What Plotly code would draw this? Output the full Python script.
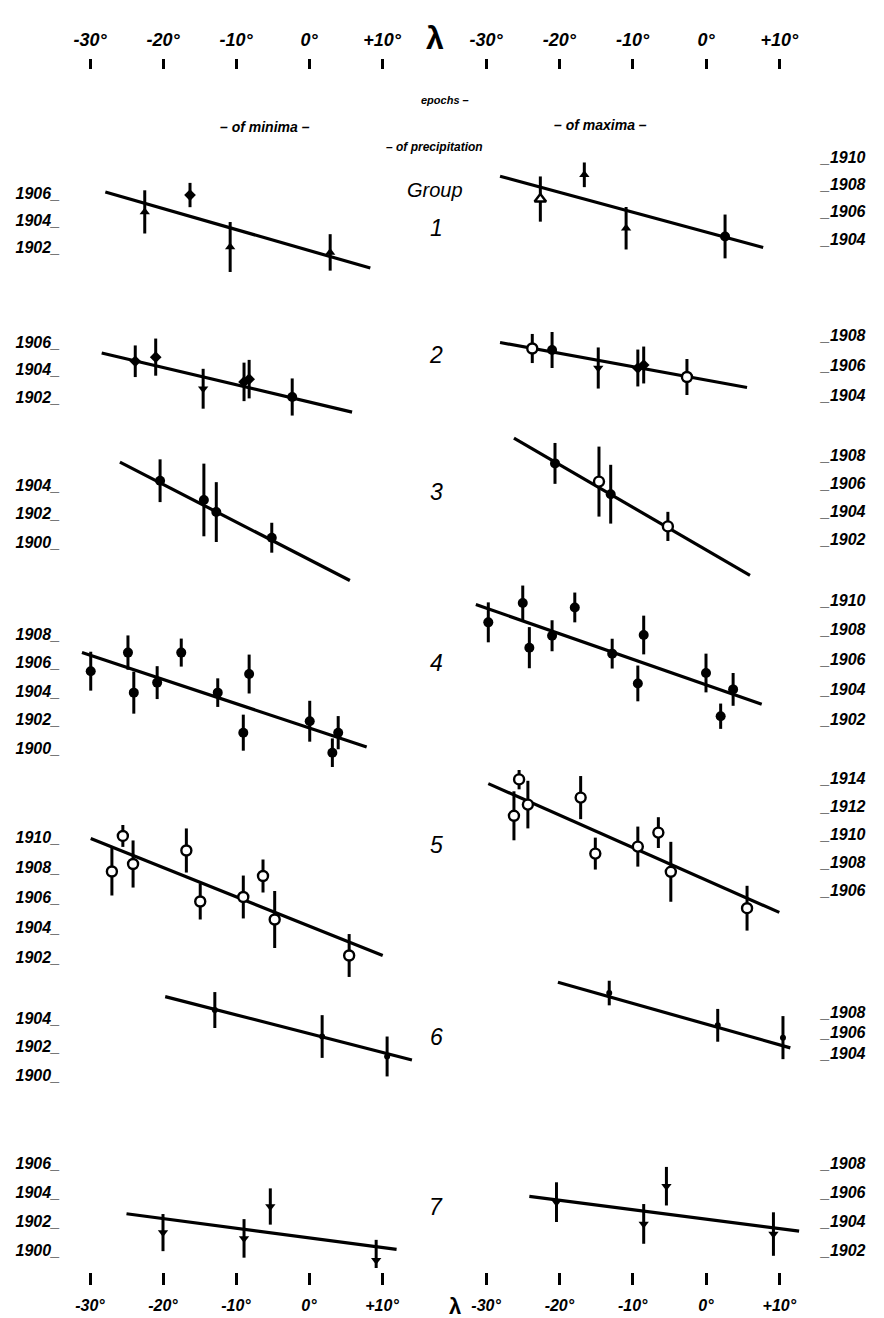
import plotly.graph_objects as go

W, H = 884, 1318

# ---------------- data ----------------
lam_ticks = [-30, -20, -10, 0, 10]
lam_ticktext = ["-30°", "-20°", "-10°", "0°", "+10°"]

# Group 1
g1_min_lam = [-22.5, -16.3, -10.8, 2.9]
g1_min_ep = [1904.6, 1905.85, 1902.0, 1901.6]
g1_min_err = [1.6, 0.9, 1.85, 1.35]
g1_min_fit_lam = [-27.9, 8.4]
g1_min_fit_ep = [1906.07, 1900.44]
g1_max_lam = [-22.6, -16.6, -10.9, 2.6]
g1_max_ep = [1906.93, 1908.7, 1904.8, 1904.2]
g1_max_err = [1.65, 0.9, 1.55, 1.6]
g1_max_fit_lam = [-28.1, 7.8]
g1_max_fit_ep = [1908.6, 1903.4]

# Group 2
g2_min_lam = [-23.8, -21.0, -14.5, -8.9, -8.2, -2.3]
g2_min_ep = [1904.6, 1904.9, 1902.6, 1903.1, 1903.3, 1902.0]
g2_min_err = [1.15, 1.35, 1.45, 1.4, 1.4, 1.35]
g2_min_fit_lam = [-28.4, 5.9]
g2_min_fit_ep = [1905.2, 1900.9]
g2_max_lam = [-23.7, -21.0, -14.7, -9.3, -8.5, -2.6]
g2_max_ep = [1907.1, 1907.0, 1905.8, 1905.8, 1906.0, 1905.2]
g2_max_err = [0.97, 1.2, 1.37, 1.23, 1.23, 1.2]
g2_max_fit_lam = [-28.1, 5.6]
g2_max_fit_ep = [1907.5, 1904.5]

# Group 3
g3_min_lam = [-20.4, -14.4, -12.7, -5.1]
g3_min_ep = [1904.3, 1902.95, 1902.1, 1900.3]
g3_min_err = [1.5, 2.55, 2.1, 1.05]
g3_min_fit_lam = [-25.9, 5.6]
g3_min_fit_ep = [1905.6, 1897.3]
g3_max_lam = [-20.6, -14.6, -13.0, -5.2]
g3_max_ep = [1907.4, 1906.1, 1905.2, 1902.9]
g3_max_err = [1.46, 2.5, 2.1, 1.04]
g3_max_fit_lam = [-26.2, 6.0]
g3_max_fit_ep = [1909.2, 1899.4]

# Group 4
g4_min_lam = [-29.9, -24.8, -24.0, -20.8, -17.5, -12.5, -8.2, -9.0, 0.1, 3.2, 4.0]
g4_min_ep = [1905.4, 1906.7, 1903.9, 1904.6, 1906.7, 1903.9, 1905.2, 1901.1, 1901.9, 1899.7, 1901.1]
g4_min_err = [1.36, 1.2, 1.47, 1.15, 0.98, 1.0, 1.36, 1.26, 1.43, 1.0, 1.16]
g4_min_fit_lam = [-31.1, 7.9]
g4_min_fit_ep = [1906.7, 1900.1]
g4_max_lam = [-29.7, -25.0, -24.1, -21.0, -17.9, -12.8, -8.5, -9.3, 0.0, 2.0, 3.7]
g4_max_ep = [1908.5, 1909.8, 1906.8, 1907.6, 1909.5, 1906.4, 1907.65, 1904.4, 1905.1, 1902.2, 1904.0]
g4_max_err = [1.34, 1.17, 1.38, 1.04, 1.0, 1.0, 1.3, 1.2, 1.3, 0.85, 1.1]
g4_max_fit_lam = [-31.4, 7.6]
g4_max_fit_ep = [1909.7, 1903.0]

# Group 5
g5_min_lam = [-27.0, -25.5, -24.1, -16.8, -14.9, -9.0, -6.3, -4.7, 5.5]
g5_min_ep = [1907.7, 1910.07, 1908.2, 1909.1, 1905.7, 1906.0, 1907.4, 1904.5, 1902.1]
g5_min_err = [1.6, 0.73, 1.57, 1.47, 1.2, 1.43, 1.1, 1.9, 1.43]
g5_min_fit_lam = [-29.9, 10.1]
g5_min_fit_ep = [1909.9, 1902.1]
g5_max_lam = [-26.2, -25.5, -24.3, -17.1, -15.1, -9.3, -6.5, -4.8, 5.6]
g5_max_ep = [1911.3, 1913.9, 1912.1, 1912.6, 1908.6, 1909.1, 1910.1, 1907.3, 1904.7]
g5_max_err = [1.75, 0.71, 1.7, 1.54, 1.14, 1.43, 1.1, 2.14, 1.6]
g5_max_fit_lam = [-29.7, 10.0]
g5_max_fit_ep = [1913.6, 1904.4]

# Group 6
g6_min_lam = [-12.9, 1.8, 10.7]
g6_min_ep = [1904.56, 1902.7, 1901.3]
g6_min_err = [1.26, 1.5, 1.4]
g6_min_fit_lam = [-19.7, 14.1]
g6_min_fit_ep = [1905.5, 1901.05]
g6_max_lam = [-13.2, 1.6, 10.5]
g6_max_ep = [1909.85, 1906.7, 1905.5]
g6_max_err = [1.2, 1.6, 2.1]
g6_max_fit_lam = [-20.2, 11.5]
g6_max_fit_ep = [1910.9, 1904.5]

# Group 7
g7_min_lam = [-20.0, -8.9, -5.3, 9.2]
g7_min_ep = [1901.2, 1900.8, 1903.0, 1899.3]
g7_min_err = [1.28, 1.33, 1.25, 1.4]
g7_min_fit_lam = [-25.0, 12.0]
g7_min_fit_ep = [1902.5, 1900.04]
g7_max_lam = [-20.4, -8.5, -5.4, 9.2]
g7_max_ep = [1905.3, 1903.8, 1906.4, 1903.1]
g7_max_err = [1.37, 1.37, 1.33, 1.5]
g7_max_fit_lam = [-24.1, 12.7]
g7_max_fit_ep = [1905.7, 1903.3]

# y tick values per panel
yt_min = [[1902, 1904, 1906], [1902, 1904, 1906], [1900, 1902, 1904],
          [1900, 1902, 1904, 1906, 1908], [1902, 1904, 1906, 1908, 1910],
          [1900, 1902, 1904], [1900, 1902, 1904, 1906]]
yt_max = [[1904, 1906, 1908, 1910], [1904, 1906, 1908], [1902, 1904, 1906, 1908],
          [1902, 1904, 1906, 1908, 1910], [1906, 1908, 1910, 1912, 1914],
          [1904, 1906, 1908], [1902, 1904, 1906, 1908]]

# ---------------- styles / layout (not data) ----------------
sym_min = [["t", "d", "t", "t"], ["d", "d", "v", "d", "d", "f"], ["f"] * 4, ["f"] * 11,
           ["o"] * 9, ["f"] * 3, ["v"] * 4]
sym_max = [["to", "t", "t", "f"], ["o", "f", "v", "d", "d", "o"], ["f", "o", "f", "o"], ["f"] * 11,
           ["o"] * 9, ["f"] * 3, ["v"] * 4]
SYM = {"f": ("circle", "black"), "o": ("circle", "white"), "t": ("triangle-up", "black"),
       "to": ("triangle-up", "white"), "v": ("triangle-down", "black"), "d": ("diamond", "black")}
SIZE = {"f": 10, "o": 10, "t": 9, "to": 10, "v": 9, "d": 9}

# pixel mapping: (reference year, pixel y of it, pixels per year)
map_min = [(1906, 193, 13.5), (1906, 342, 13.75), (1904, 485, 14.25), (1908, 634, 14.3),
           (1910, 837, 15.0), (1904, 1018, 14.25), (1906, 1163, 14.5)]
map_max = [(1910, 157, 13.7), (1908, 335, 15.0), (1908, 455, 14.0), (1910, 600, 14.9),
           (1914, 778, 14.0), (1908, 1012, 10.25), (1908, 1163, 14.5)]
bands = [(135, 295), (300, 430), (430, 600), (580, 790), (770, 1000), (975, 1100), (1130, 1268)]

# x pixel mapping: x = x0 + k*lambda
LX0, LK = 309.0, 7.3
RX0, RK = 706.0, 7.33
LDOM = (40, 430)
RDOM = (440, 815)

data_min = [(g1_min_lam, g1_min_ep, g1_min_err, g1_min_fit_lam, g1_min_fit_ep),
            (g2_min_lam, g2_min_ep, g2_min_err, g2_min_fit_lam, g2_min_fit_ep),
            (g3_min_lam, g3_min_ep, g3_min_err, g3_min_fit_lam, g3_min_fit_ep),
            (g4_min_lam, g4_min_ep, g4_min_err, g4_min_fit_lam, g4_min_fit_ep),
            (g5_min_lam, g5_min_ep, g5_min_err, g5_min_fit_lam, g5_min_fit_ep),
            (g6_min_lam, g6_min_ep, g6_min_err, g6_min_fit_lam, g6_min_fit_ep),
            (g7_min_lam, g7_min_ep, g7_min_err, g7_min_fit_lam, g7_min_fit_ep)]
data_max = [(g1_max_lam, g1_max_ep, g1_max_err, g1_max_fit_lam, g1_max_fit_ep),
            (g2_max_lam, g2_max_ep, g2_max_err, g2_max_fit_lam, g2_max_fit_ep),
            (g3_max_lam, g3_max_ep, g3_max_err, g3_max_fit_lam, g3_max_fit_ep),
            (g4_max_lam, g4_max_ep, g4_max_err, g4_max_fit_lam, g4_max_fit_ep),
            (g5_max_lam, g5_max_ep, g5_max_err, g5_max_fit_lam, g5_max_fit_ep),
            (g6_max_lam, g6_max_ep, g6_max_err, g6_max_fit_lam, g6_max_fit_ep),
            (g7_max_lam, g7_max_ep, g7_max_err, g7_max_fit_lam, g7_max_fit_ep)]

FONT = "Liberation Sans"
tickfont = dict(family=FONT, size=16, color="black", weight="bold", style="italic")

fig = go.Figure()
layout = {}


def xr(dom, x0, k):
    return [(dom[0] - x0) / k, (dom[1] - x0) / k]


def yr(band, m):
    v, y, k = m
    return [v - (band[1] - y) / k, v + (y - band[0]) / k]


idx = 0
for g in range(7):
    for col in ("min", "max"):
        idx += 1
        xa = "x" if idx == 1 else f"x{idx}"
        ya = "y" if idx == 1 else f"y{idx}"
        xkey = "xaxis" if idx == 1 else f"xaxis{idx}"
        ykey = "yaxis" if idx == 1 else f"yaxis{idx}"
        if col == "min":
            lam, ep, err, flam, fep = data_min[g]
            syms, m, yt = sym_min[g], map_min[g], yt_min[g]
            dom, x0, k = LDOM, LX0, LK
        else:
            lam, ep, err, flam, fep = data_max[g]
            syms, m, yt = sym_max[g], map_max[g], yt_max[g]
            dom, x0, k = RDOM, RX0, RK
        band = bands[g]
        small = g == 5
        fig.add_trace(go.Scatter(x=flam, y=fep, mode="lines", xaxis=xa, yaxis=ya,
                                 line=dict(color="black", width=3.2), hoverinfo="skip"))
        fig.add_trace(go.Scatter(
            x=lam, y=ep, mode="markers", xaxis=xa, yaxis=ya,
            error_y=dict(type="data", array=err, thickness=3, width=0, color="black"),
            marker=dict(symbol=[SYM[s][0] for s in syms],
                        color=[SYM[s][1] for s in syms],
                        size=[6 if small else SIZE[s] for s in syms],
                        opacity=1,
                        line=dict(color="black", width=[2.4 if s in ("o", "to") else 0 for s in syms]))))
        xaxis = dict(domain=[dom[0] / W, dom[1] / W], range=xr(dom, x0, k),
                     showgrid=False, zeroline=False, showline=False, fixedrange=True)
        if g == 0:
            xaxis.update(visible=True, side="top", anchor="free", position=1 - 69 / H,
                         ticks="outside", ticklen=10, tickwidth=3, tickcolor="black",
                         tickvals=lam_ticks, ticktext=lam_ticktext,
                         tickfont=dict(family=FONT, size=18, color="black", weight="bold", style="italic"),
                         ticklabelstandoff=6)
        elif g == 6:
            xaxis.update(visible=True, side="bottom", anchor="free", position=1 - 1272 / H,
                         ticks="outside", ticklen=12, tickwidth=3, tickcolor="black",
                         tickvals=lam_ticks, ticktext=lam_ticktext,
                         tickfont=dict(family=FONT, size=16, color="black", weight="bold", style="italic"),
                         ticklabelstandoff=7)
        else:
            xaxis.update(visible=False, anchor=ya)
        yaxis = dict(domain=[1 - band[1] / H, 1 - band[0] / H], range=yr(band, m),
                     showgrid=False, zeroline=False, showline=False, ticks="",
                     tickvals=yt, fixedrange=True, anchor="free", tickfont=tickfont)
        if col == "min":
            yaxis.update(side="left", position=60 / W, ticktext=[f"{v}_" for v in yt],
                         ticklabelstandoff=0)
        else:
            yaxis.update(side="right", position=820 / W, ticktext=[f"_{v}" for v in yt],
                         ticklabelstandoff=0)
        layout[xkey] = xaxis
        layout[ykey] = yaxis

annotations = []


def txt(x, y, s, size, bold=False, italic=True):
    annotations.append(dict(x=x / W, y=1 - y / H, xref="paper", yref="paper", text=s,
                            showarrow=False, xanchor="center", yanchor="middle",
                            font=dict(family=FONT, size=size, color="black",
                                      weight="bold" if bold else "normal",
                                      style="italic" if italic else "normal")))


txt(435, 38, "λ", 32, bold=True, italic=False)
txt(455, 1306, "λ", 22, bold=True, italic=False)
txt(445, 100, "epochs –", 11, bold=True)
txt(265, 127, "– of minima –", 14, bold=True)
txt(600, 125, "– of maxima –", 14, bold=True)
txt(434, 147, "– of precipitation", 12, bold=True)
txt(435, 190, "Group", 20)
group_y = [228, 355, 492, 663, 845, 1037, 1207]
for i, gy in enumerate(group_y):
    txt(436, gy, str(i + 1), 23)

fig.update_layout(width=W, height=H, margin=dict(l=0, r=0, t=0, b=0),
                  paper_bgcolor="white", plot_bgcolor="rgba(0,0,0,0)",
                  showlegend=False, annotations=annotations, **layout)

fig.write_html("out.html")
